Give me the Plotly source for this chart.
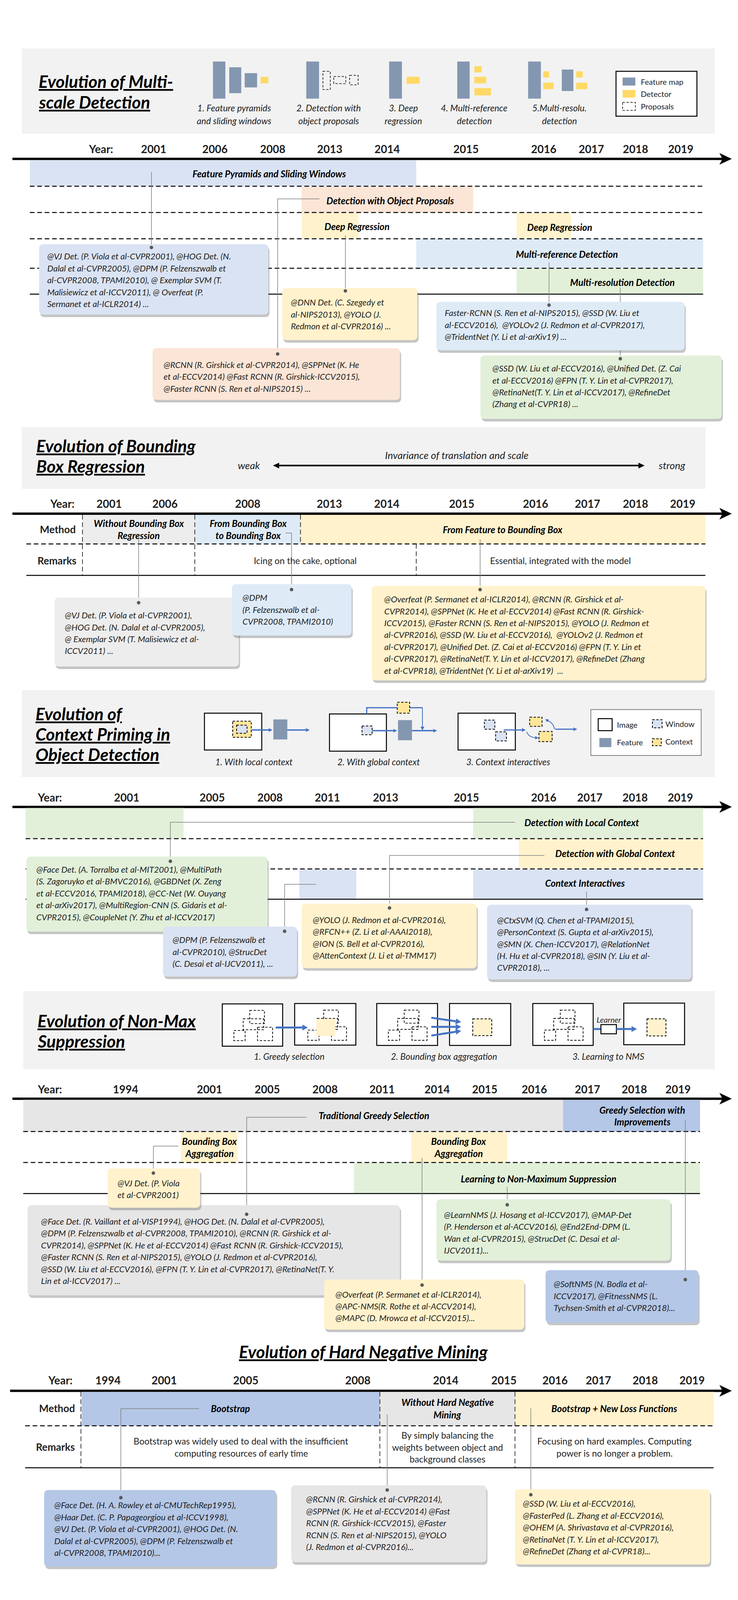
import math
import plotly.graph_objects as go

FONT = "Lato"

# ------------------------------------------------------------------ data
# year ticks of every timeline
MS_YEARS = ["2001", "2006", "2008", "2013", "2014", "2015", "2016", "2017", "2018", "2019"]
BB_YEARS = ["2001", "2006", "2008", "2013", "2014", "2015", "2016", "2017", "2018", "2019"]
CP_YEARS = ["2001", "2005", "2008", "2011", "2013", "2015", "2016", "2017", "2018", "2019"]
NMS_YEARS = ["1994", "2001", "2005", "2008", "2011", "2014", "2015", "2016", "2017", "2018", "2019"]
HNM_YEARS = ["1994", "2001", "2005", "2008", "2014", "2015", "2016", "2017", "2018", "2019"]

# section titles
TITLES = {
    "ms": ["Evolution of Multi-", "scale Detection"],
    "bb": ["Evolution of Bounding", "Box Regression"],
    "cp": ["Evolution of", "Context Priming in", "Object Detection"],
    "nms": ["Evolution of Non-Max", "Suppression"],
    "hnm": ["Evolution of Hard Negative Mining"],
}

# 1. multi-scale detection
MS_STEPS = [["1. Feature pyramids", "and sliding windows"], ["2. Detection with", "object proposals"],
            ["3. Deep", "regression"], ["4. Multi-reference", "detection"], ["5.Multi-resolu.", "detection"]]
MS_LEGEND = ["Feature map", "Detector", "Proposals"]
MS_BANDS = ["Feature Pyramids and Sliding Windows", "Detection with Object Proposals", "Deep Regression",
            "Deep Regression", "Multi-reference Detection", "Multi-resolution Detection"]
MS_NOTES = [
    ["@VJ Det. (P. Viola et al-CVPR2001), @HOG Det. (N.", "Dalal et al-CVPR2005), @DPM (P. Felzenszwalb et",
     "al-CVPR2008, TPAMI2010), @ Exemplar SVM (T.", "Malisiewicz et al-ICCV2011), @ Overfeat (P.",
     "Sermanet et al-ICLR2014) ..."],
    ["@DNN Det. (C. Szegedy et", "al-NIPS2013), @YOLO (J.", "Redmon et al-CVPR2016) ..."],
    ["Faster-RCNN (S. Ren et al-NIPS2015), @SSD (W. Liu et", "al-ECCV2016),  @YOLOv2 (J. Redmon et al-CVPR2017),",
     "@TridentNet (Y. Li et al-arXiv19) ..."],
    ["@RCNN (R. Girshick et al-CVPR2014), @SPPNet (K. He", "et al-ECCV2014) @Fast RCNN (R. Girshick-ICCV2015),",
     "@Faster RCNN (S. Ren et al-NIPS2015) ..."],
    ["@SSD (W. Liu et al-ECCV2016), @Unified Det. (Z. Cai", "et al-ECCV2016) @FPN (T. Y. Lin et al-CVPR2017),",
     "@RetinaNet(T. Y. Lin et al-ICCV2017), @RefineDet", "(Zhang et al-CVPR18) ..."],
]

# 2. bounding box regression
BB_AXIS = ["weak", "Invariance of translation and scale", "strong"]
BB_ROWS = ["Method", "Remarks"]
BB_METHODS = [["Without Bounding Box", "Regression"], ["From Bounding Box", "to Bounding Box"],
              ["From Feature to Bounding Box"]]
BB_REMARKS = ["Icing on the cake, optional", "Essential, integrated with the model"]
BB_NOTES = [
    ["@VJ Det. (P. Viola et al-CVPR2001),", "@HOG Det. (N. Dalal et al-CVPR2005),",
     "@ Exemplar SVM (T. Malisiewicz et al-", "ICCV2011) ..."],
    ["@DPM", "(P. Felzenszwalb et al-", "CVPR2008, TPAMI2010)"],
    ["@Overfeat (P. Sermanet et al-ICLR2014), @RCNN (R. Girshick et al-",
     "CVPR2014), @SPPNet (K. He et al-ECCV2014) @Fast RCNN (R. Girshick-",
     "ICCV2015), @Faster RCNN (S. Ren et al-NIPS2015), @YOLO (J. Redmon et",
     "al-CVPR2016), @SSD (W. Liu et al-ECCV2016),  @YOLOv2 (J. Redmon et",
     "al-CVPR2017), @Unified Det. (Z. Cai et al-ECCV2016) @FPN (T. Y. Lin et",
     "al-CVPR2017), @RetinaNet(T. Y. Lin et al-ICCV2017), @RefineDet (Zhang",
     "et al-CVPR18), @TridentNet (Y. Li et al-arXiv19)  ..."],
]

# 3. context priming
CP_STEPS = ["1. With local context", "2. With global context", "3. Context interactives"]
CP_LEGEND = ["Image", "Window", "Feature", "Context"]
CP_BANDS = ["Detection with Local Context", "Detection with Global Context", "Context Interactives"]
CP_NOTES = [
    ["@Face Det. (A. Torralba et al-MIT2001), @MultiPath", "(S. Zagoruyko et al-BMVC2016), @GBDNet (X. Zeng",
     "et al-ECCV2016, TPAMI2018), @CC-Net (W. Ouyang", "et al-arXiv2017), @MultiRegion-CNN (S. Gidaris et al-",
     "CVPR2015), @CoupleNet (Y. Zhu et al-ICCV2017)"],
    ["@DPM (P. Felzenszwalb et", "al-CVPR2010), @StrucDet", "(C. Desai et al-IJCV2011), ..."],
    ["@YOLO (J. Redmon et al-CVPR2016),", "@RFCN++ (Z. Li et al-AAAI2018),", "@ION (S. Bell et al-CVPR2016),",
     "@AttenContext (J. Li et al-TMM17)"],
    ["@CtxSVM (Q. Chen et al-TPAMI2015),", "@PersonContext (S. Gupta et al-arXiv2015),",
     "@SMN (X. Chen-ICCV2017), @RelationNet", "(H. Hu et al-CVPR2018), @SIN (Y. Liu et al-", "CVPR2018), ..."],
]

# 4. non-max suppression
NMS_STEPS = ["1. Greedy selection", "2. Bounding box aggregation", "3. Learning to NMS"]
NMS_BANDS = [["Traditional Greedy Selection"], ["Greedy Selection with", "Improvements"],
             ["Bounding Box", "Aggregation"], ["Bounding Box", "Aggregation"],
             ["Learning to Non-Maximum Suppression"]]
NMS_NOTES = [
    ["@VJ Det. (P. Viola", "et al-CVPR2001)"],
    ["@Face Det. (R. Vaillant et al-VISP1994), @HOG Det. (N. Dalal et al-CVPR2005),",
     "@DPM (P. Felzenszwalb et al-CVPR2008, TPAMI2010), @RCNN (R. Girshick et al-",
     "CVPR2014), @SPPNet (K. He et al-ECCV2014) @Fast RCNN (R. Girshick-ICCV2015),",
     "@Faster RCNN (S. Ren et al-NIPS2015), @YOLO (J. Redmon et al-CVPR2016),",
     "@SSD (W. Liu et al-ECCV2016), @FPN (T. Y. Lin et al-CVPR2017), @RetinaNet(T. Y.",
     "Lin et al-ICCV2017) ..."],
    ["@LearnNMS (J. Hosang et al-ICCV2017), @MAP-Det", "(P. Henderson et al-ACCV2016), @End2End-DPM (L.",
     "Wan et al-CVPR2015), @StrucDet (C. Desai et al-", "IJCV2011)..."],
    ["@Overfeat (P. Sermanet et al-ICLR2014),", "@APC-NMS(R. Rothe et al-ACCV2014),",
     "@MAPC (D. Mrowca et al-ICCV2015)..."],
    ["@SoftNMS (N. Bodla et al-", "ICCV2017), @FitnessNMS (L.", "Tychsen-Smith et al-CVPR2018)..."],
]

# 5. hard negative mining
HNM_METHODS = [["Bootstrap"], ["Without Hard Negative", "Mining"], ["Bootstrap + New Loss Functions"]]
HNM_REMARKS = [["Bootstrap was widely used to deal with the insufficient", "computing resources of early time"],
               ["By simply balancing the", "weights between object and", "background classes"],
               ["Focusing on hard examples. Computing", "power is no longer a problem."]]
HNM_NOTES = [
    ["@Face Det. (H. A. Rowley et al-CMUTechRep1995),", "@Haar Det. (C. P. Papageorgiou et al-ICCV1998),",
     "@VJ Det. (P. Viola et al-CVPR2001), @HOG Det. (N.", "Dalal et al-CVPR2005), @DPM (P. Felzenszwalb et",
     "al-CVPR2008, TPAMI2010)..."],
    ["@RCNN (R. Girshick et al-CVPR2014),", "@SPPNet (K. He et al-ECCV2014) @Fast",
     "RCNN (R. Girshick-ICCV2015), @Faster", "RCNN (S. Ren et al-NIPS2015), @YOLO",
     "(J. Redmon et al-CVPR2016)..."],
    ["@SSD (W. Liu et al-ECCV2016),", "@FasterPed (L. Zhang et al-ECCV2016),",
     "@OHEM (A. Shrivastava et al-CVPR2016),", "@RetinaNet (T. Y. Lin et al-ICCV2017),",
     "@RefineDet (Zhang et al-CVPR18)..."],
]

# ------------------------------------------------------------------ styles
PANEL = "#F2F2F2"
FEAT = "#8497B0"
DET = "#FFD966"
CTX = "#FFE699"
BLUE1 = "#DAE3F3"
BLUE2 = "#DEEBF7"
BLUE3 = "#B4C7E7"
PEACH = "#FBE5D6"
YEL = "#FFF2CC"
GREEN = "#E2F0D9"
GREY = "#E7E6E6"
GREY2 = "#EDEDED"
ARROW = "#4472C4"
INK = "#1F1F1F"
CONN = "#7F7F7F"
DASH = "12px,7px"

shapes, annots = [], []
dot_x, dot_y = [], []


def rect(x0, y0, x1, y1, fill="rgba(0,0,0,0)", line="rgba(0,0,0,0)", lw=0, dash="solid"):
    shapes.append(dict(type="rect", xref="x", yref="y", x0=x0, y0=y0, x1=x1, y1=y1, fillcolor=fill,
                       line=dict(color=line, width=lw, dash=dash), layer="below"))


def path(d, color="#000000", lw=2, fill="rgba(0,0,0,0)", dash="solid"):
    shapes.append(dict(type="path", xref="x", yref="y", path=d, fillcolor=fill,
                       line=dict(color=color, width=lw, dash=dash), layer="below"))


def hline(x0, x1, y, lw=2.5, dash="solid", color="#000000"):
    shapes.append(dict(type="line", xref="x", yref="y", x0=x0, x1=x1, y0=y, y1=y,
                       line=dict(color=color, width=lw, dash=dash), layer="below"))


def vline(x, y0, y1, lw=1.5, dash=DASH, color="#000000"):
    shapes.append(dict(type="line", xref="x", yref="y", x0=x, x1=x, y0=y0, y1=y1,
                       line=dict(color=color, width=lw, dash=dash), layer="below"))


def text(x, y, s, size=24, b=False, i=False, anchor="center", color="#000000"):
    if b:
        s = "<b>" + s + "</b>"
    if i:
        s = "<i>" + s + "</i>"
    annots.append(dict(x=x, y=y, xref="x", yref="y", text=s, showarrow=False, xanchor=anchor,
                       yanchor="middle", font=dict(family=FONT, size=size, color=color)))


def lines(x, y, rows, step, **kw):
    for k, s in enumerate(rows):
        text(x, y + k * step, s, **kw)


def title(x, y, rows, step=56, anchor="left"):
    for k, s in enumerate(rows):
        text(x, y + k * step, "<u>" + s + "</u>", 44, b=True, i=True, anchor=anchor)


def rrect_d(x0, y0, x1, y1, r=12):
    return (f"M{x0 + r},{y0} L{x1 - r},{y0} Q{x1},{y0} {x1},{y0 + r} L{x1},{y1 - r} Q{x1},{y1} {x1 - r},{y1} "
            f"L{x0 + r},{y1} Q{x0},{y1} {x0},{y1 - r} L{x0},{y0 + r} Q{x0},{y0} {x0 + r},{y0} Z")


def note(box, fill, rows, tx, ty, step=32.6):
    x0, y0, x1, y1 = box
    path(rrect_d(x0 + 3, y0 + 7, x1 + 3, y1 + 7), lw=0, fill="rgba(90,90,90,0.35)")
    path(rrect_d(x0, y0, x1, y1), lw=0, fill=fill)
    lines(tx, ty, rows, step, size=22, i=True, anchor="left", color=INK)


def connector(pts):
    path("M" + " L".join(f"{x},{y}" for x, y in pts), color=CONN, lw=1.5)
    dot_x.append(pts[-1][0])
    dot_y.append(pts[-1][1])


def arrow(x0, y0, x1, y1, color=ARROW, lw=4, hl=14, hw=7):
    L = math.hypot(x1 - x0, y1 - y0)
    ux, uy = (x1 - x0) / L, (y1 - y0) / L
    bx, by = x1 - ux * hl, y1 - uy * hl
    px, py = -uy, ux
    path(f"M{x0},{y0} L{bx},{by}", color=color, lw=lw)
    path(f"M{x1},{y1} L{bx + px * hw},{by + py * hw} L{bx - px * hw},{by - py * hw} Z", lw=0, fill=color)


def timeline(years, xs, year_x, ty, ay, x0=24, x1=1882):
    text(year_x, ty, "Year:", 28, b=True, color=INK)
    for yr, x in zip(years, xs):
        text(x, ty, yr, 28, b=True, color=INK)
    hline(x0, x1 - 24, ay, lw=6)
    path(f"M{x1},{ay} L{x1 - 32},{ay - 16} L{x1 - 24},{ay} L{x1 - 32},{ay + 16} Z", lw=0, fill="#000000")


def dashed_box(x0, y0, x1, y1, fill="rgba(0,0,0,0)", lw=2):
    rect(x0, y0, x1, y1, fill=fill, line="#000000", lw=lw, dash="6px,4px")


# =================================================================== 1. multi-scale
rect(48, 124, 1838, 358, fill=PANEL)
title(90, 214, TITLES["ms"], step=57)
for b in [(542, 160, 574, 262), (584, 176, 615, 247), (624, 192, 656, 231),
          (783, 160, 816, 262), (997, 160, 1030, 262), (1173, 160, 1205, 262),
          (1356, 160, 1389, 262), (1443, 182, 1473, 241)]:
    rect(*b, fill=FEAT)
for b in [(665, 202, 685, 220), (1042, 202, 1076, 221), (1217, 173, 1236, 190), (1217, 202, 1248, 220),
          (1217, 233, 1260, 253), (1395, 187, 1410, 204), (1395, 218, 1422, 236), (1480, 187, 1497, 204),
          (1480, 218, 1509, 236)]:
    rect(*b, fill=DET)
for b in [(826, 187, 845, 237), (854, 201, 885, 221), (895, 198, 917, 224)]:
    dashed_box(*b, lw=1.5)
for cx, rows in zip([597, 841, 1034, 1217, 1437], MS_STEPS):
    lines(cx, 287, rows, 35, size=23, i=True, color=INK)
rect(1583, 187, 1792, 310, fill="#FFFFFF", line="#000000", lw=2.5)
rect(1600, 204, 1633, 226, fill=FEAT)
rect(1600, 238, 1633, 259, fill=DET)
dashed_box(1600, 272, 1633, 294, lw=1.5)
lines(1645, 215, MS_LEGEND, 34, size=20, anchor="left", color=INK)

timeline(MS_YEARS, [389, 547, 696, 844, 992, 1196, 1396, 1519, 1633, 1750], 253, 400, 427)
ms_band_geo = [((69, 431, 1067, 501), BLUE1, (687, 467)), ((771, 503, 1214, 574), PEACH, (1000, 541)),
               ((771, 575, 918, 645), YEL, (914, 612)), ((1326, 575, 1467, 645), YEL, (1438, 614)),
               ((1067, 647, 1808, 727), BLUE2, (1456, 688)), ((1326, 728, 1808, 798), GREEN, (1600, 765))]
for (b, c, _) in ms_band_geo:
    rect(*b, fill=c)
for y in [502, 574, 646, 727]:
    hline(69, 1808, y, lw=2.5, dash=DASH)
hline(69, 1808, 798, lw=2.5)
connector([(383, 463), (383, 670)])
connector([(817, 537), (709, 537), (709, 962)])
connector([(884, 637), (884, 789)])
connector([(1410, 711), (1410, 828)])
connector([(1594, 780), (1594, 975)])
for (b, c, (lx, ly)), s in zip(ms_band_geo, MS_BANDS):
    text(lx, ly, s, 24, b=True, i=True)
ms_note_geo = [((93, 661, 685, 854), BLUE1, 112, 694), ((721, 781, 1070, 924), YEL, 741, 820),
               ((1119, 819, 1760, 952), BLUE2, 1139, 849), ((386, 946, 1025, 1088), PEACH, 412, 991),
               ((1233, 966, 1856, 1140), GREEN, 1262, 1001)]
for (b, c, tx, ty), rows in zip(ms_note_geo, MS_NOTES):
    note(b, c, rows, tx, ty)

# =================================================================== 2. bounding box regression
rect(48, 1162, 1814, 1332, fill=PANEL)
title(84, 1213, TITLES["bb"], step=56)
text(635, 1267, BB_AXIS[0], 26, i=True, color=INK)
text(1172, 1239, BB_AXIS[1], 26, i=True, color=INK)
text(1727, 1267, BB_AXIS[2], 26, i=True, color=INK)
arrow(1177, 1268, 697, 1268, color="#000000", lw=4, hl=16, hw=8)
arrow(1177, 1268, 1657, 1268, color="#000000", lw=4, hl=16, hw=8)

timeline(BB_YEARS, [274, 418, 632, 843, 991, 1185, 1375, 1509, 1633, 1755], 153, 1372, 1400)
bb_cells = [((205, 1403, 495, 1483), GREY2, 350), ((495, 1403, 768, 1483), BLUE2, 633),
            ((768, 1403, 1814, 1483), YEL, 1290)]
for (b, c, _) in bb_cells:
    rect(*b, fill=c)
for x in [205, 495]:
    vline(x, 1403, 1569)
vline(768, 1403, 1483)
vline(1067, 1483, 1569)
hline(60, 1814, 1483, lw=2.5, dash=DASH)
hline(60, 1814, 1569, lw=2.5)
text(141, 1443, BB_ROWS[0], 26, b=True, color=INK)
text(139, 1528, BB_ROWS[1], 26, b=True, color=INK)
for (b, c, cx), rows in zip(bb_cells, BB_METHODS):
    lines(cx, 1443 - 16.5 * (len(rows) - 1), rows, 33, size=24, b=True, i=True)
text(781, 1528, BB_REMARKS[0], 23, color=INK)
text(1440, 1528, BB_REMARKS[1], 23, color=INK)
connector([(350, 1470), (350, 1644)])
connector([(729, 1453), (745, 1453), (745, 1608)])
connector([(1232, 1470), (1232, 1608)])
bb_note_geo = [((133, 1630, 609, 1819), GREY2, 157, 1678), ((591, 1593, 900, 1734), BLUE2, 616, 1630),
               ((952, 1598, 1814, 1857), YEL, 982, 1634)]
for (b, c, tx, ty), rows in zip(bb_note_geo, BB_NOTES):
    note(b, c, rows, tx, ty)

# =================================================================== 3. context priming
rect(48, 1884, 1838, 2122, fill=PANEL)
title(82, 1948, TITLES["cp"], step=56)
# local context
rect(520, 1947, 668, 2048, fill="#FFFFFF", line="#000000", lw=2.5)
dashed_box(593, 1969, 641, 2013, fill=CTX)
dashed_box(603, 1980, 630, 2002, fill=BLUE1)
arrow(641, 1993, 696, 1993, lw=3.5, hl=10, hw=5)
rect(698, 1964, 734, 2019, fill=FEAT)
arrow(734, 1993, 792, 1993, lw=3.5, hl=10, hw=5)
# global context
rect(843, 1949, 990, 2051, fill="#FFFFFF", line="#000000", lw=2.5)
dashed_box(927, 1982, 953, 2006, fill=BLUE1)
arrow(953, 1995, 1018, 1995, lw=3.5, hl=10, hw=5)
rect(1020, 1966, 1056, 2021, fill=FEAT)
path("M939,1949 L939,1932 L1018,1932", color=ARROW, lw=3)
path("M1050,1932 L1083,1932", color=ARROW, lw=3)
arrow(1083, 1932, 1083, 1994, lw=2, hl=10, hw=5)
dashed_box(1018, 1917, 1050, 1947, fill=CTX)
arrow(1056, 1995, 1121, 1995, lw=3.5, hl=10, hw=5)
# interactions
rect(1175, 1947, 1323, 2048, fill="#FFFFFF", line="#000000", lw=2.5)
dashed_box(1243, 1966, 1270, 1991, fill=BLUE1)
dashed_box(1272, 1998, 1300, 2023, fill=BLUE1)
arrow(1293, 1993, 1350, 1993, lw=3, hl=10, hw=5)
dashed_box(1360, 1958, 1392, 1983, fill=CTX)
dashed_box(1384, 1997, 1418, 2025, fill=CTX)
path("M1352,1998 Q1358,2013 1374,2014", color=ARROW, lw=2)
arrow(1373, 2014, 1383, 2015, lw=2, hl=9, hw=4.5)
path("M1424,1991 Q1422,1975 1408,1968", color=ARROW, lw=2)
arrow(1409, 1969, 1400, 1963, lw=2, hl=9, hw=4.5)
arrow(1426, 1991, 1483, 1991, lw=3, hl=10, hw=5)
for cx, s in zip([647, 970, 1305], CP_STEPS):
    text(cx, 2080, s, 23, i=True, color=INK)
rect(1518, 1937, 1803, 2063, fill="#FFFFFF", line="#7F7F7F", lw=2)
rect(1537, 1962, 1573, 1995, fill="#FFFFFF", line="#000000", lw=2.5)
dashed_box(1677, 1965, 1702, 1987, fill=BLUE1)
rect(1540, 2015, 1571, 2040, fill=FEAT)
dashed_box(1677, 2017, 1700, 2036, fill=CTX)
for (lx, ly), s in zip([(1583, 1978), (1708, 1976), (1583, 2027), (1708, 2024)], CP_LEGEND):
    text(lx, ly, s, 20, anchor="left", color=INK)

timeline(CP_YEARS, [319, 540, 689, 838, 988, 1197, 1396, 1515, 1632, 1749], 121, 2178, 2204)
for b, c in [((58, 2207, 466, 2290), GREEN), ((1214, 2207, 1808, 2290), GREEN), ((1332, 2292, 1808, 2373), YEL),
             ((765, 2375, 912, 2456), BLUE1), ((1214, 2375, 1808, 2456), BLUE1)]:
    rect(*b, fill=c)
hline(58, 1808, 2291, lw=2.5, dash=DASH)
hline(58, 1808, 2374, lw=2.5, dash=DASH)
hline(58, 1808, 2457, lw=2.5)
connector([(1322, 2246), (432, 2246), (432, 2353)])
connector([(1398, 2337), (998, 2337), (998, 2481)])
connector([(1507, 2436), (1507, 2485)])
connector([(808, 2416), (727, 2416), (727, 2545)])
for (lx, ly), s in zip([(1495, 2247), (1581, 2331), (1503, 2413)], CP_BANDS):
    text(lx, ly, s, 24, b=True, i=True)
cp_note_geo = [((60, 2340, 683, 2546), GREEN, 84, 2375), ((413, 2532, 759, 2669), BLUE1, 436, 2568),
               ((771, 2469, 1223, 2646), YEL, 798, 2513), ((1250, 2472, 1778, 2677), BLUE1, 1274, 2514)]
for (b, c, tx, ty), rows in zip(cp_note_geo, CP_NOTES):
    note(b, c, rows, tx, ty)

# =================================================================== 4. non-max suppression
rect(52, 2709, 1838, 2923, fill=PANEL)
title(87, 2790, TITLES["nms"], step=56)
PROPS = [(71, 18, 109, 54), (54, 41, 107, 71), (30, 73, 59, 101), (91, 64, 130, 101)]


def proposals(ox, oy):
    for (a, b, c, d) in PROPS:
        dashed_box(ox + a, oy + b, ox + c, oy + d, lw=1.8)


for b in [(566, 2744, 722, 2860), (753, 2743, 911, 2857), (965, 2743, 1122, 2858),
          (1153, 2743, 1311, 2858), (1368, 2743, 1524, 2858), (1603, 2742, 1760, 2856)]:
    rect(*b, fill="#FFFFFF", line="#000000", lw=2.5)
proposals(566, 2744)
proposals(757, 2743)
rect(809, 2785, 858, 2832, fill=YEL)
arrow(704, 2809, 787, 2809, lw=5, hl=14, hw=8)
proposals(965, 2743)
dashed_box(1213, 2785, 1262, 2831, fill=YEL)
arrow(1106, 2782, 1183, 2794, lw=5, hl=14, hw=8)
arrow(1106, 2807, 1183, 2807, lw=5, hl=14, hw=8)
arrow(1106, 2831, 1183, 2818, lw=5, hl=14, hw=8)
proposals(1368, 2743)
path("M1524,2813 L1544,2813", color=ARROW, lw=5)
rect(1544, 2801, 1584, 2826, fill="#FFFFFF", line="#000000", lw=2.5)
arrow(1584, 2813, 1637, 2813, lw=5, hl=14, hw=8)
text(1565, 2787, "Learner", 20, i=True, color=INK)
dashed_box(1663, 2785, 1712, 2832, fill=YEL)
for cx, s in zip([739, 1139, 1563], NMS_STEPS):
    text(cx, 2888, s, 23, i=True, color=INK)

timeline(NMS_YEARS, [316, 533, 682, 832, 979, 1121, 1244, 1372, 1509, 1630, 1743], 121, 2978, 3004)
nms_band_geo = [((52, 3007, 1446, 3094), GREY, (958, 3050)), ((1446, 3007, 1800, 3094), BLUE3, (1651, 3051)),
                ((459, 3096, 606, 3179), YEL, (533, 3137)), ((1055, 3096, 1302, 3179), YEL, (1176, 3137)),
                ((906, 3180, 1800, 3264), GREEN, (1383, 3223))]
for (b, c, _) in nms_band_geo:
    rect(*b, fill=c)
hline(52, 1800, 3094, lw=2.5, dash=DASH)
hline(52, 1800, 3179, lw=2.5, dash=DASH)
hline(52, 1800, 3264, lw=2.5)
connector([(783, 3055), (629, 3055), (629, 3321)])
connector([(1762, 3062), (1762, 3500)])
connector([(453, 3134), (388, 3134), (388, 3208)])
connector([(1082, 3166), (1082, 3515)])
connector([(1302, 3246), (1302, 3295)])
for (b, c, (lx, ly)), rows in zip(nms_band_geo, NMS_BANDS):
    lines(lx, ly - 16.5 * (len(rows) - 1), rows, 33, size=24, b=True, i=True)
nms_note_geo = [((63, 3296, 1025, 3543), GREY, 96, 3340), ((270, 3195, 509, 3303), YEL, 293, 3235),
                ((1119, 3280, 1724, 3448), GREEN, 1137, 3322), ((829, 3500, 1346, 3637), YEL, 856, 3540),
                ((1401, 3474, 1796, 3618), BLUE3, 1420, 3512)]
nms_note_rows = [NMS_NOTES[1], NMS_NOTES[0], NMS_NOTES[2], NMS_NOTES[3], NMS_NOTES[4]]
for (b, c, tx, ty), rows in zip(nms_note_geo, nms_note_rows):
    note(b, c, rows, tx, ty)

# =================================================================== 5. hard negative mining
title(931, 3697, TITLES["hnm"], anchor="center")
timeline(HNM_YEARS, [271, 416, 627, 916, 1143, 1293, 1426, 1538, 1659, 1780], 148, 3776, 3805, x0=18)
hnm_cells = [((203, 3808, 973, 3901), BLUE3, 587), ((973, 3808, 1322, 3901), GREY, 1148),
             ((1322, 3808, 1835, 3901), YEL, 1579)]
for (b, c, _) in hnm_cells:
    rect(*b, fill=c)
for x in [201, 973, 1322]:
    vline(x, 3808, 4016)
hline(57, 1835, 3901, lw=2.5, dash=DASH)
hline(57, 1835, 4016, lw=2.5)
text(139, 3853, BB_ROWS[0], 26, b=True, color=INK)
text(135, 3959, BB_ROWS[1], 26, b=True, color=INK)
connector([(506, 3854), (304, 3854), (304, 4098)])
connector([(992, 3870), (992, 4077)])
connector([(1363, 3853), (1363, 4090)])
for (b, c, cx), rows in zip(hnm_cells, HNM_METHODS):
    lines(cx, 3853 - 16.5 * (len(rows) - 1), rows, 34, size=24, b=True, i=True)
for cx, rows in zip([615, 1148, 1579], HNM_REMARKS):
    lines(cx, 3959 - 16 * (len(rows) - 1), rows, 32.5, size=23, color=INK)
hnm_note_geo = [((106, 4077, 705, 4287), BLUE3, 130, 4118), ((744, 4064, 1248, 4275), GREY, 781, 4102),
                ((1322, 4075, 1826, 4281), YEL, 1340, 4114)]
for (b, c, tx, ty), rows in zip(hnm_note_geo, HNM_NOTES):
    note(b, c, rows, tx, ty)

# ------------------------------------------------------------------ figure
fig = go.Figure(go.Scatter(x=dot_x, y=dot_y, mode="markers", hoverinfo="skip",
                           marker=dict(size=9, color="#595959")))
fig.update_layout(
    autosize=True, margin=dict(l=0, r=0, t=0, b=0),
    paper_bgcolor="#FFFFFF", plot_bgcolor="#FFFFFF", showlegend=False,
    xaxis=dict(range=[0, 1890], visible=False, fixedrange=True),
    yaxis=dict(range=[4370, 0], visible=False, fixedrange=True),
    shapes=shapes, annotations=annots,
)
# the figure fills the browser window, so nothing falls below its lower edge
fig.write_html("out.html", config={"displayModeBar": False, "responsive": True},
               default_width="100%", default_height="calc(100vh - 16px)")
